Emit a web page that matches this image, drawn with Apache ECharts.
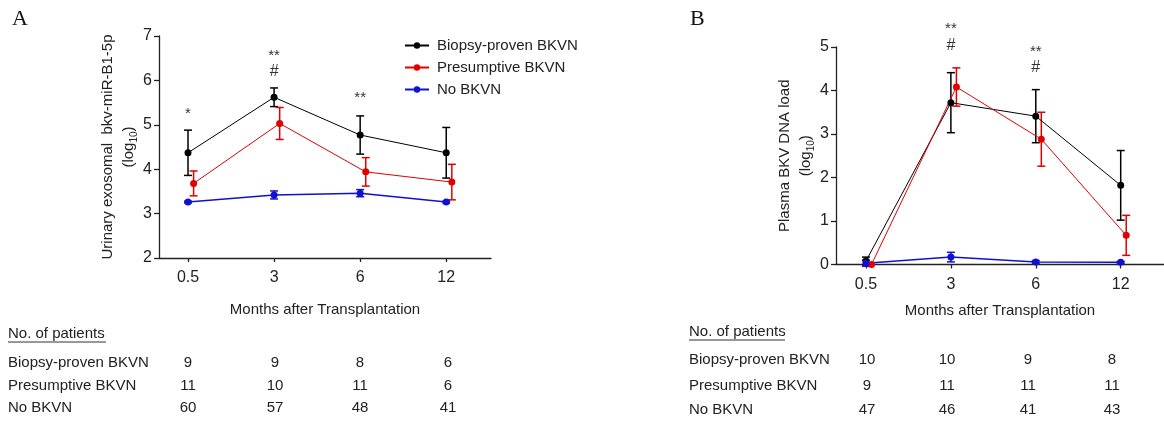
<!DOCTYPE html>
<html>
<head>
<meta charset="utf-8">
<script src="https://cdn.jsdelivr.net/npm/echarts@6/dist/echarts.min.js"></script>
<style>
html,body{margin:0;padding:0;background:#fff;}
#chart{width:1164px;height:425px;}
</style>
</head>
<body>
<div id="chart"></div>
<script>
// ---------- DATA ----------
const months = ['0.5', '3', '6', '12'];
const seriesNames = ['Biopsy-proven BKVN', 'Presumptive BKVN', 'No BKVN'];

// Panel A: urinary exosomal bkv-miR-B1-5p (log10), mean and error
const biopsyA = [4.37, 5.62, 4.77, 4.37];
const biopsyAErr = [0.51, 0.21, 0.43, 0.57];
const presumA = [3.68, 5.03, 3.94, 3.71];
const presumAErr = [0.28, 0.36, 0.32, 0.40];
const noA = [3.26, 3.42, 3.46, 3.26];
const noAErr = [0.02, 0.09, 0.08, 0.02];

// Panel B: plasma BKV DNA load (log10)
const biopsyB = [0.08, 3.72, 3.41, 1.82];
const biopsyBErr = [0.09, 0.69, 0.61, 0.80];
const presumB = [0.0, 4.08, 2.88, 0.67];
const presumBErr = [0.0, 0.44, 0.62, 0.46];
const noB = [0.03, 0.17, 0.06, 0.05];
const noBErr = [0.07, 0.11, 0.03, 0.02];

// Significance annotations (category index, y value, text)
const annotAIdx = [0, 1, 1, 2];
const annotAY = [5.24, 6.56, 6.20, 5.61];
const annotAText = ['*', '**', '#', '**'];
const annotBIdx = [1, 1, 2, 2];
const annotBY = [5.41, 5.03, 4.89, 4.52];
const annotBText = ['**', '#', '**', '#'];

// Patient counts
const nA = [[9, 9, 8, 6], [11, 10, 11, 6], [60, 57, 48, 41]];
const nB = [[10, 10, 9, 8], [9, 11, 11, 11], [47, 46, 41, 43]];

const yTicksA = [2, 3, 4, 5, 6, 7];
const yTicksB = [0, 1, 2, 3, 4, 5];

// ---------- STYLE / LAYOUT ----------
const colors = ['#000000', '#e00000', '#1010d0'];
const offsets = [0, 0.065, 0];
const lineWidths = [1, 1, 1.5];
const FONT = '"Liberation Sans", Arial, sans-serif';
const TXT = '#222';

const chart = echarts.init(document.getElementById('chart'), null, {renderer: 'canvas'});

function lineSeries(i, vals, axis) {
  return {
    type: 'line', name: seriesNames[i], xAxisIndex: axis, yAxisIndex: axis,
    data: vals.map((v, k) => [k + offsets[i], v]),
    symbol: 'circle', symbolSize: 7, z: 5,
    lineStyle: {color: colors[i], width: lineWidths[i]},
    itemStyle: {color: colors[i]},
    animation: false
  };
}
function errSeries(i, vals, errs, axis) {
  return {
    type: 'custom', xAxisIndex: axis, yAxisIndex: axis, z: 4, silent: true,
    data: vals.map((v, k) => [k + offsets[i], v, errs[k]]),
    renderItem: function (params, api) {
      const x = api.value(0), y = api.value(1), e = api.value(2);
      if (!(e > 0)) return null;
      const top = api.coord([x, y + e]);
      const bot = api.coord([x, y - e]);
      const st = {stroke: colors[i], lineWidth: 1.5};
      const w = 4;
      return {type: 'group', children: [
        {type: 'line', shape: {x1: top[0], y1: top[1], x2: bot[0], y2: bot[1]}, style: st},
        {type: 'line', shape: {x1: top[0] - w, y1: top[1], x2: top[0] + w, y2: top[1]}, style: st},
        {type: 'line', shape: {x1: bot[0] - w, y1: bot[1], x2: bot[0] + w, y2: bot[1]}, style: st}
      ]};
    },
    animation: false
  };
}
function annotSeries(idx, ys, texts, axis) {
  return {
    type: 'custom', xAxisIndex: axis, yAxisIndex: axis, z: 6, silent: true,
    data: idx.map((k, j) => [k, ys[j]]),
    renderItem: function (params, api) {
      const p = api.coord([api.value(0), api.value(1)]);
      const t = texts[params.dataIndex];
      return {type: 'text', x: p[0], y: p[1], style: {
        text: t, fill: '#333', font: (t === '#' ? '16px ' : '15px ') + FONT,
        align: 'center', verticalAlign: 'middle'}};
    },
    animation: false
  };
}

const axisLineStyle = {color: '#222', width: 1.3};

function xAxis(grid, min, max, nameGap) {
  return {
    type: 'value', gridIndex: grid, min: min, max: max,
    axisLine: {show: true, onZero: false, lineStyle: axisLineStyle},
    axisTick: {show: true, length: 4, customValues: [0, 1, 2, 3], lineStyle: axisLineStyle},
    axisLabel: {customValues: [0, 1, 2, 3], formatter: v => months[Math.round(v)],
      fontSize: 16, fontFamily: FONT, color: TXT, margin: 12},
    splitLine: {show: false},
    name: 'Months after Transplantation', nameLocation: 'middle', nameGap: nameGap,
    nameTextStyle: {fontSize: 15, fontFamily: FONT, color: TXT}
  };
}
function yAxis(grid, ticks, name, nameGap) {
  return {
    type: 'value', gridIndex: grid, min: ticks[0], max: ticks[ticks.length - 1], interval: 1,
    axisLine: {show: true, onZero: false, lineStyle: axisLineStyle},
    axisTick: {show: true, length: 5, lineStyle: axisLineStyle},
    axisLabel: {fontSize: 16, fontFamily: FONT, color: TXT, margin: 7},
    splitLine: {show: false},
    name: name, nameLocation: 'middle', nameRotate: 90, nameGap: nameGap,
    nameTextStyle: {fontSize: 15, fontFamily: FONT, color: TXT, lineHeight: 21,
      rich: {s: {fontSize: 10, fontFamily: FONT, color: TXT, verticalAlign: 'bottom', lineHeight: 21, padding: [6, 0, 0, 0]},
             t: {fontSize: 15, fontFamily: FONT, color: TXT, lineHeight: 21}}}
  };
}

// table graphics
const graphics = [];
function addText(x, y, text, opts) {
  graphics.push(Object.assign({type: 'text', x: x, y: y, silent: true,
    style: Object.assign({text: text, fill: TXT, font: '15px ' + FONT, verticalAlign: 'middle', align: 'left'}, opts || {})}));
}
addText(12, 19, 'A', {font: '22px "Liberation Serif", "Times New Roman", serif', fill: '#111'});
addText(690, 19, 'B', {font: '22px "Liberation Serif", "Times New Roman", serif', fill: '#111'});

function addTable(x0, yHeader, rowYs, colXs, counts, underlineW) {
  addText(x0, yHeader, 'No. of patients');
  graphics.push({type: 'line', silent: true, shape: {x1: x0, y1: yHeader + 8, x2: x0 + underlineW, y2: yHeader + 8},
    style: {stroke: '#333', lineWidth: 1}});
  seriesNames.forEach((nm, r) => {
    addText(x0, rowYs[r], nm);
    counts[r].forEach((c, k) => addText(colXs[k], rowYs[r], String(c), {align: 'center'}));
  });
}
addTable(8, 334, [363, 386, 408], [188, 275, 360, 448], nA, 98);
addTable(689, 332, [360, 386, 410], [867, 947, 1028, 1112], nB, 96);

const option = {
  animation: false,
  backgroundColor: '#fff',
  grid: [
    {left: 159, top: 36, width: 332, height: 222},
    {left: 836, top: 47, width: 328, height: 217.5}
  ],
  xAxis: [xAxis(0, -0.337, 3.52, 44), xAxis(1, -0.353, 3.51, 39)],
  yAxis: [
    yAxis(0, yTicksA, 'Urinary exosomal  bkv-miR-B1-5p\n({t|log}{s|10})', 20),
    yAxis(1, yTicksB, 'Plasma BKV DNA load\n({t|log}{s|10})', 14)
  ],
  legend: {
    data: seriesNames, orient: 'vertical', left: 399, top: 33,
    itemWidth: 24, itemHeight: 8, itemGap: 7,
    textStyle: {fontSize: 15, fontFamily: FONT, color: TXT, padding: [0, 0, 0, 3]}
  },
  series: [
    errSeries(0, biopsyA, biopsyAErr, 0), errSeries(1, presumA, presumAErr, 0), errSeries(2, noA, noAErr, 0),
    lineSeries(0, biopsyA, 0), lineSeries(1, presumA, 0), lineSeries(2, noA, 0),
    errSeries(0, biopsyB, biopsyBErr, 1), errSeries(1, presumB, presumBErr, 1), errSeries(2, noB, noBErr, 1),
    lineSeries(0, biopsyB, 1), lineSeries(1, presumB, 1), lineSeries(2, noB, 1),
    annotSeries(annotAIdx, annotAY, annotAText, 0),
    annotSeries(annotBIdx, annotBY, annotBText, 1)
  ],
  graphic: graphics
};
chart.setOption(option);
</script>
</body>
</html>
